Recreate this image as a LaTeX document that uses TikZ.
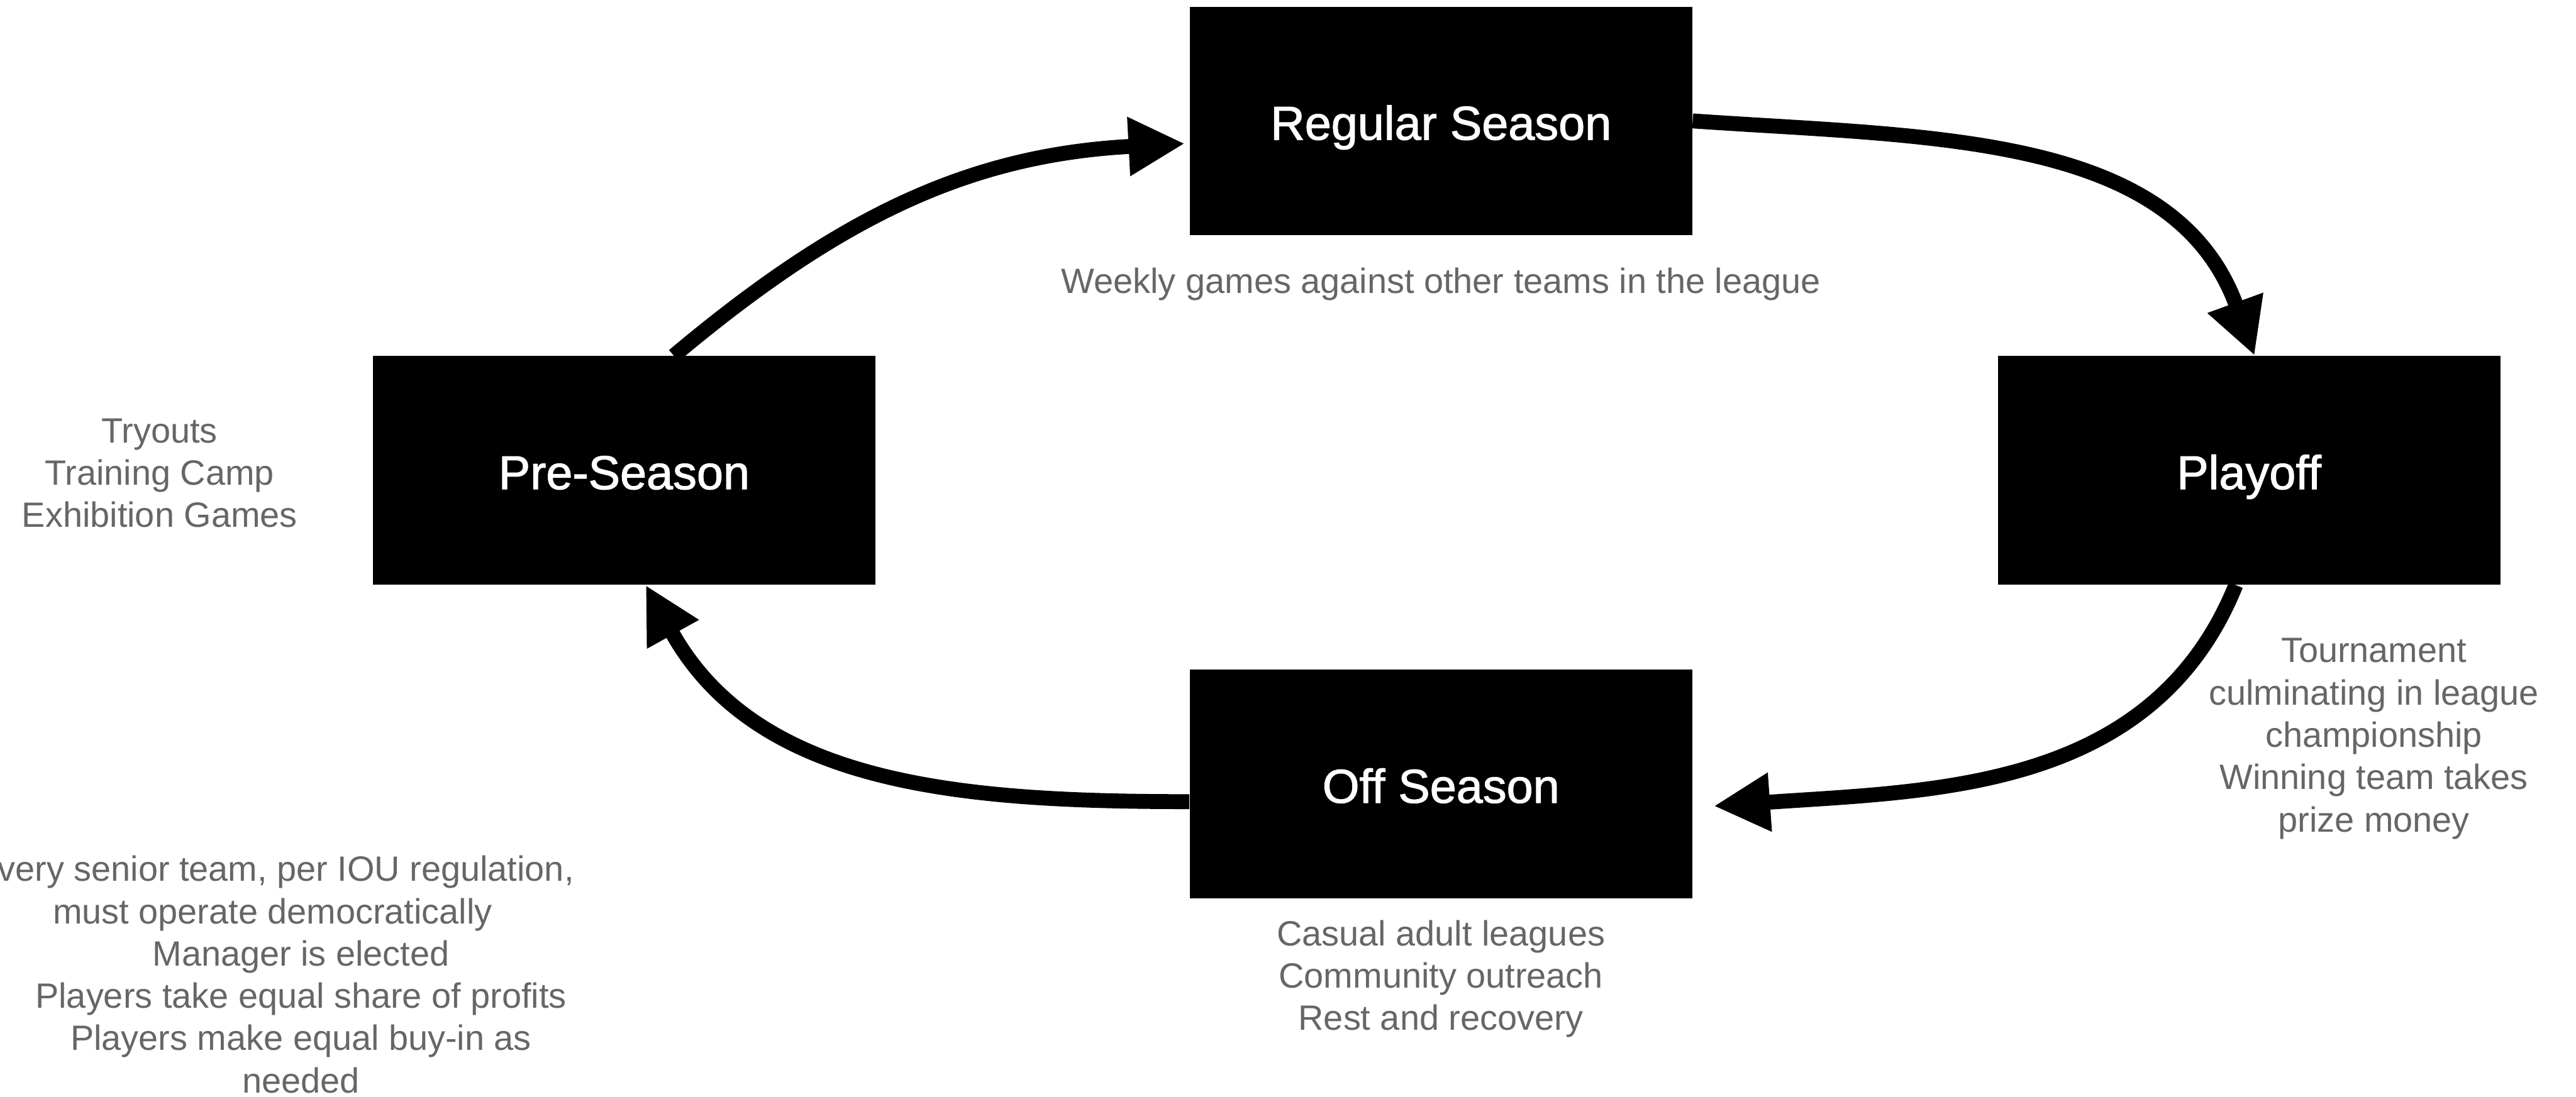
\documentclass[tikz,border=0pt]{standalone}
\usepackage{fontspec}
\setsansfont{Liberation Sans}
\newfontfamily\seasonfont{Liberation Sans}[FakeBold=1.5]
\usepackage{xcolor}
\usetikzlibrary{arrows.meta}

\definecolor{notegray}{HTML}{666666}

\begin{document}
\begin{tikzpicture}[font=\sffamily]

    % --- STILE ---
    % Schwarze Phasen-Kästen mit weißer Schrift
    \tikzset{seasonbox/.style={fill=black, draw=none, text=white, minimum width=9.1cm, minimum height=4.14cm, inner sep=0pt, text height=0.68cm, text depth=0pt, font=\seasonfont\fontsize{24.5}{29}\selectfont}}
    % Graue Notizen neben den Kästen
    \tikzset{notetext/.style={text=notegray, align=center, inner sep=0pt, font=\sffamily\fontsize{18.1}{21.8}\selectfont}}
    % Dicke Pfeile für den Kreislauf
    \tikzset{cyclearrow/.style={line width=0.27cm, -{Triangle[length=1.02cm, width=1cm]}}}

    % Rahmen (Bildgröße wie Vorlage)
    \useasboundingbox (0,0) rectangle (46.64,-19.86);

    % --- DIE VIER PHASEN ---
    \node[seasonbox] (regular) at (26.09,-2.19) {Regular Season};
    \node[seasonbox] (preseason) at (11.30,-8.52) {Pre-Season};
    \node[seasonbox] (playoff) at (40.72,-8.52) {Playoff};
    \node[seasonbox] (offseason) at (26.09,-14.20) {Off Season};

    % --- NOTIZEN ---
    \node[notetext] (regularnote) at (26.09,-5.15) {Weekly games against other teams in the league};
    \node[notetext] (prenote) at (2.89,-8.57) {Tryouts\\Training Camp\\Exhibition Games};
    \node[notetext] (playoffnote) at (42.98,-13.38) {Tournament\\culminating in league\\championship\\Winning team takes\\prize money};
    \node[notetext] (offnote) at (26.09,-17.73) {Casual adult leagues\\Community outreach\\Rest and recovery};
    % erste zwei Zeilen mit Leerraum am Ende (wie in der Vorlage)
    \node[notetext] (teamnote) at (5.45,-17.65) {Every senior team, per IOU regulation,\rule{0.97cm}{0pt}\\must operate democratically\rule{1.03cm}{0pt}\\Manager is elected\\Players take equal share of profits\\Players make equal buy-in as\\needed};

    % --- PFEILE (Kreislauf) ---
    \draw[cyclearrow] ([xshift=0.9cm]preseason.north) to[out=40, in=183] ([xshift=-0.08cm, yshift=-0.41cm]regular.west);
    \draw[cyclearrow] (regular.east) to[out=-4, in=110] ([xshift=0.10cm]playoff.north);
    \draw[cyclearrow] ([xshift=-0.24cm]playoff.south) to[out=248, in=4] ([xshift=0.38cm, yshift=-0.40cm]offseason.east);
    \draw[cyclearrow] ([yshift=-0.32cm]offseason.west) to[out=180, in=-61] ([xshift=0.39cm]preseason.south);

\end{tikzpicture}
\end{document}
